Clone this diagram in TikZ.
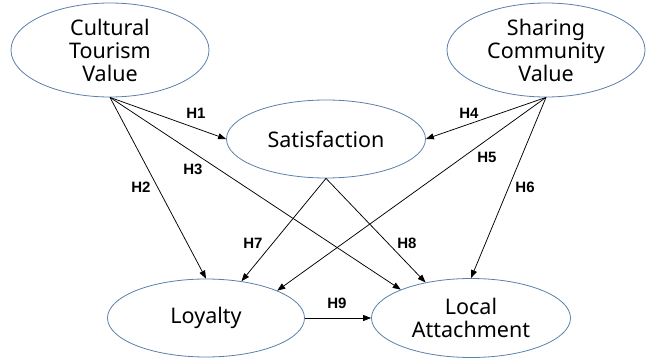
\documentclass[tikz,border=0pt]{standalone}
\usepackage{fontspec}
\setmainfont{Noto Sans}
\newfontfamily\labfont{Liberation Sans}
\usetikzlibrary{shapes.geometric,arrows.meta}
\definecolor{ellcol}{HTML}{5A80AA}
\begin{document}
\begin{tikzpicture}[x=1pt,y=-1pt,
  lat/.style={draw=ellcol,line width=0.8pt,ellipse,inner sep=0pt,align=center,
    font=\fontsize{21.5}{23}\selectfont},
  conn/.style={draw=black,line width=0.75pt,-{Triangle[length=8pt,width=6pt]}},
  hlab/.style={font=\labfont\fontsize{15}{17}\selectfont\bfseries,inner sep=0pt}]
\useasboundingbox (0,0) rectangle (650,358);
\node[lat,minimum width=198pt,minimum height=94pt] (ctv) at (110,50) {Cultural\\Tourism\\Value};
\node[lat,minimum width=198pt,minimum height=94pt] (scv) at (546,50) {Sharing\\Community\\Value};
\node[lat,minimum width=199pt,minimum height=78pt] (sat) at (326,139) {Satisfaction};
\node[lat,minimum width=197pt,minimum height=78pt] (loy) at (206,318) {Loyalty};
\node[lat,minimum width=199pt,minimum height=79pt] (la) at (471,318) {Local\\Attachment};
\draw[conn] (ctv.south) -- (sat.west);
\draw[conn] (ctv.south) -- (loy.north);
\draw[conn] (ctv.south) -- (la.158);
\draw[conn] (scv.south) -- (sat.east);
\draw[conn] (scv.south) -- (loy.21);
\draw[conn] (scv.south) -- (la.north);
\draw[conn] (sat.south) -- (loy.46);
\draw[conn] (sat.south) -- (la.142);
\draw[conn] (loy.east) -- (la.west);
\node[hlab] (h1) at (196,113) {H1};
\node[hlab] (h2) at (141,187) {H2};
\node[hlab] (h3) at (193,169) {H3};
\node[hlab] (h4) at (469,113) {H4};
\node[hlab] (h5) at (487,157) {H5};
\node[hlab] (h6) at (525,187) {H6};
\node[hlab] (h7) at (253,243) {H7};
\node[hlab] (h8) at (407,243) {H8};
\node[hlab] (h9) at (337,303) {H9};
\end{tikzpicture}
\end{document}
